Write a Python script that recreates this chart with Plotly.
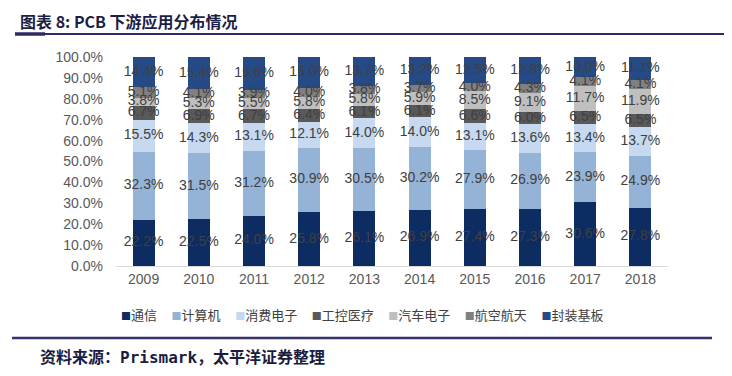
import numpy as np
import plotly.graph_objects as go

years = ['2009', '2010', '2011', '2012', '2013', '2014', '2015', '2016', '2017', '2018']
names = ['通信', '计算机', '消费电子', '工控医疗', '汽车电子', '航空航天', '封装基板']
comm = [22.2, 22.5, 24.0, 25.8, 26.1, 26.9, 27.4, 27.3, 30.6, 27.8]
computer = [32.3, 31.5, 31.2, 30.9, 30.5, 30.2, 27.9, 26.9, 23.9, 24.9]
consumer = [15.5, 14.3, 13.1, 12.1, 14.0, 14.0, 13.1, 13.6, 13.4, 13.7]
industrial = [6.7, 6.9, 6.7, 6.4, 6.1, 6.1, 6.6, 6.0, 6.5, 6.5]
auto = [3.8, 5.3, 5.5, 5.8, 5.8, 5.9, 8.5, 9.1, 11.7, 11.9]
aero = [5.1, 4.1, 3.9, 4.0, 3.8, 3.7, 4.0, 4.3, 4.1, 4.1]
pkg = [14.4, 15.4, 15.6, 15.0, 13.7, 13.2, 12.5, 12.8, 10.0, 11.1]
colors = ['#0c2c62', '#95b3d7', '#c6d9f1', '#595959', '#bfbfbf', '#808080', '#264a85']

series = [comm, computer, consumer, industrial, auto, aero, pkg]

# page body has an 8px default margin; figure coordinates are offset accordingly
OFF = 8
W, H = 732 - OFF, 376 - OFF
L, R, T, B = 116 - OFF, 668 - OFF, 57 - OFF, 266 - OFF


def px(x):
    return (x - OFF - L) / (R - L)


def py(y):
    return (B - (y - OFF)) / (B - T)


LAB = dict(family='Liberation Sans, Arial', size=14, color='#404040')

fig = go.Figure()
base = np.zeros(len(years))
for name, vals, col in zip(names, series, colors):
    v = np.array(vals)
    fig.add_trace(go.Bar(x=years, y=v, name=name, marker=dict(color=col, line=dict(width=0)),
                         hoverinfo='skip', showlegend=False))
    mids = base + v / 2
    fig.add_trace(go.Scatter(x=years, y=mids, mode='text', text=[f'{a:.1f}%' for a in v],
                             textposition='middle center', showlegend=False, hoverinfo='skip',
                             textfont=LAB, cliponaxis=False))
    base = base + v

legend_text = '     '.join(
    f"<span style='color:{c};font-size:10px'>■</span>{n}" for n, c in zip(names, colors))

fig.update_layout(
    width=W, height=H, autosize=False,
    margin=dict(l=L, r=W - R, t=T, b=H - B),
    paper_bgcolor='white', plot_bgcolor='white',
    barmode='stack', bargap=0.6,
    showlegend=False,
    xaxis=dict(type='category', showline=True, linecolor='#d9d9d9', linewidth=1, ticks='',
               showgrid=False, tickfont=dict(family='Liberation Sans, Arial', size=14, color='#595959')),
    yaxis=dict(range=[0, 100], dtick=10, tickformat='.1f', ticksuffix='%', showgrid=False,
               zeroline=False, showline=False, ticklabelstandoff=12,
               tickfont=dict(family='Liberation Sans, Arial', size=14, color='#595959')),
    shapes=[
        dict(type='line', xref='paper', yref='paper', x0=px(15), x1=px(740), y0=py(34), y1=py(34),
             line=dict(color='#2e2b63', width=2)),
        dict(type='line', xref='paper', yref='paper', x0=px(15), x1=px(45), y0=py(34), y1=py(34),
             line=dict(color='#2e2b63', width=3.5)),
        dict(type='line', xref='paper', yref='paper', x0=px(12), x1=px(712), y0=py(338), y1=py(338),
             line=dict(color='#36326b', width=2.5)),
    ],
    annotations=[
        dict(text='<b>图表 8: PCB 下游应用分布情况</b>', xref='paper', yref='paper', x=px(18), y=py(21),
             xanchor='left', yanchor='middle', showarrow=False,
             font=dict(family='Noto Sans CJK SC', size=16, color='#1c1f45')),
        dict(text='<b>资料来源：Prismark，太平洋证券整理</b>', xref='paper', yref='paper', x=px(38), y=py(357),
             xanchor='left', yanchor='middle', showarrow=False,
             font=dict(family='DejaVu Sans Mono, Noto Sans CJK SC', size=16, color='#1a1d40')),
        dict(text=legend_text, xref='paper', yref='paper', x=px(362), y=py(314),
             xanchor='center', yanchor='middle', showarrow=False,
             font=dict(family='Noto Sans CJK SC', size=13, color='#404040')),
    ],
)

fig.write_html('out.html')
